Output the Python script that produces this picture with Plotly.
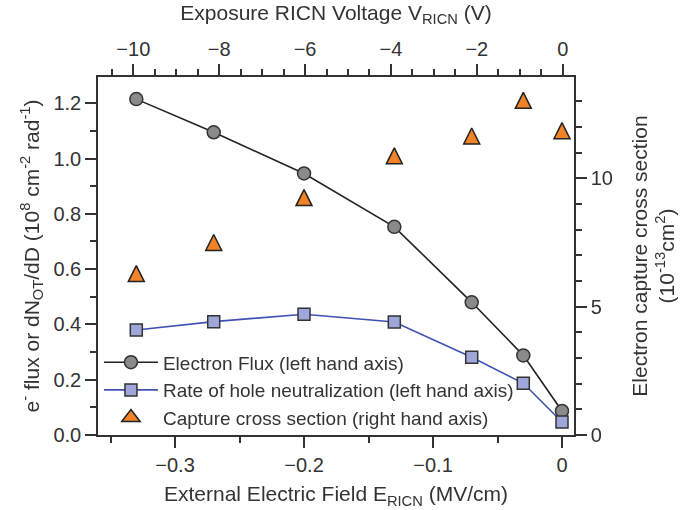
import plotly.graph_objects as go

# Data
e_field = [-0.33, -0.27, -0.20, -0.13, -0.07, -0.03, 0.0]          # MV/cm
voltage = [-10, -8, -6, -4, -2, -1, 0]                               # V
electron_flux = [1.215, 1.095, 0.946, 0.753, 0.48, 0.288, 0.087]
hole_rate = [0.38, 0.41, 0.437, 0.409, 0.281, 0.187, 0.047]
cross_section = [6.29, 7.50, 9.25, 10.88, 11.65, 13.04, 11.86]

FONT = "Liberation Sans, Arial, sans-serif"
TXT = "#333333"
AX = "#333333"
TICK_SIZE = 20
TITLE_SIZE = 21

fig = go.Figure()

fig.add_trace(go.Scatter(
    x=e_field, y=electron_flux, mode="lines+markers",
    name="Electron Flux (left hand axis)",
    line=dict(color="#222222", width=1.6),
    marker=dict(symbol="circle", size=13, color="#8a8a8a",
                line=dict(color="#333333", width=1.5)),
    xaxis="x", yaxis="y"))

fig.add_trace(go.Scatter(
    x=e_field, y=hole_rate, mode="lines+markers",
    name="Rate of hole neutralization (left hand axis)",
    line=dict(color="#3f51b5", width=1.6),
    marker=dict(symbol="square", size=12, color="#9ea6da",
                line=dict(color="#333333", width=1.5)),
    xaxis="x", yaxis="y"))

# legend entry for the triangles
fig.add_trace(go.Scatter(
    x=[None], y=[None], mode="markers",
    name="Capture cross section (right hand axis)",
    marker=dict(symbol="triangle-up", size=17, color="#f08227",
                line=dict(color="#222222", width=1.5)),
    xaxis="x", yaxis="y2"))

fig.add_trace(go.Scatter(
    x=e_field, y=cross_section, mode="markers",
    name="Capture cross section (right hand axis)", showlegend=False,
    marker=dict(symbol="arrow-down", angle=180, standoff=8, size=16,
                color="#f08227", line=dict(color="#222222", width=1.5)),
    xaxis="x", yaxis="y2"))

# invisible trace to carry the top (voltage) axis
fig.add_trace(go.Scatter(
    x=voltage, y=electron_flux, mode="markers", opacity=0,
    showlegend=False, hoverinfo="skip", xaxis="x2", yaxis="y"))

axis_common = dict(
    showline=True, linecolor=AX, linewidth=1.5, ticks="outside",
    ticklen=11, tickwidth=1.5, tickcolor=AX, showgrid=False, zeroline=False,
    tickfont=dict(family=FONT, size=TICK_SIZE, color=TXT),
)
minor_common = dict(ticks="outside", ticklen=6, tickwidth=1.5, tickcolor=AX)
title_font = dict(family=FONT, size=TITLE_SIZE, color=TXT)

fig.update_layout(
    width=689, height=510,
    margin=dict(l=98, r=115, t=77, b=75),
    paper_bgcolor="white", plot_bgcolor="white",
    font=dict(family=FONT, size=19, color=TXT),
    xaxis=dict(**axis_common, range=[-0.3597, 0.0093], tickvals=[-0.3, -0.2, -0.1, 0],
               ticktext=["\u22120.3", "\u22120.2", "\u22120.1", "0"],
               minor=dict(dtick=0.05, tick0=0, **minor_common),
               title=dict(text="External Electric Field E<sub>RICN</sub> (MV/cm)",
                          font=title_font, standoff=12),
               anchor="y", automargin=False),
    xaxis2=dict(**axis_common, range=[-10.822, 0.263], overlaying="x", side="top",
                anchor="y", dtick=2, tick0=0,
                minor=dict(dtick=0.5, tick0=0, **minor_common),
                title=dict(text="Exposure RICN Voltage V<sub>RICN</sub> (V)",
                           font=title_font, standoff=12),
                automargin=False),
    yaxis=dict(**axis_common, range=[0, 1.295], dtick=0.2, tick0=0, tickformat=".1f",
               minor=dict(dtick=0.1, tick0=0, **minor_common),
               title=dict(text="e<sup>-</sup> flux or dN<sub>OT</sub>/dD (10<sup>8</sup> cm<sup>-2</sup> rad<sup>-1</sup>)",
                          font=title_font, standoff=8),
               anchor="x", automargin=False),
    yaxis2=dict(**axis_common, range=[0, 13.95], overlaying="y", side="right",
                anchor="x", dtick=5, tick0=0,
                minor=dict(dtick=1, tick0=0, **minor_common),
                title=dict(text="Electron capture cross section<br>(10<sup>-13</sup>cm<sup>2</sup>)",
                           font=title_font, standoff=20),
                automargin=False),
    legend=dict(x=0.002, y=0.256, xanchor="left", yanchor="top",
                bgcolor="rgba(0,0,0,0)", font=dict(family=FONT, size=19, color=TXT),
                tracegroupgap=0, itemwidth=54),
    showlegend=True,
)

fig.write_html("out.html")
